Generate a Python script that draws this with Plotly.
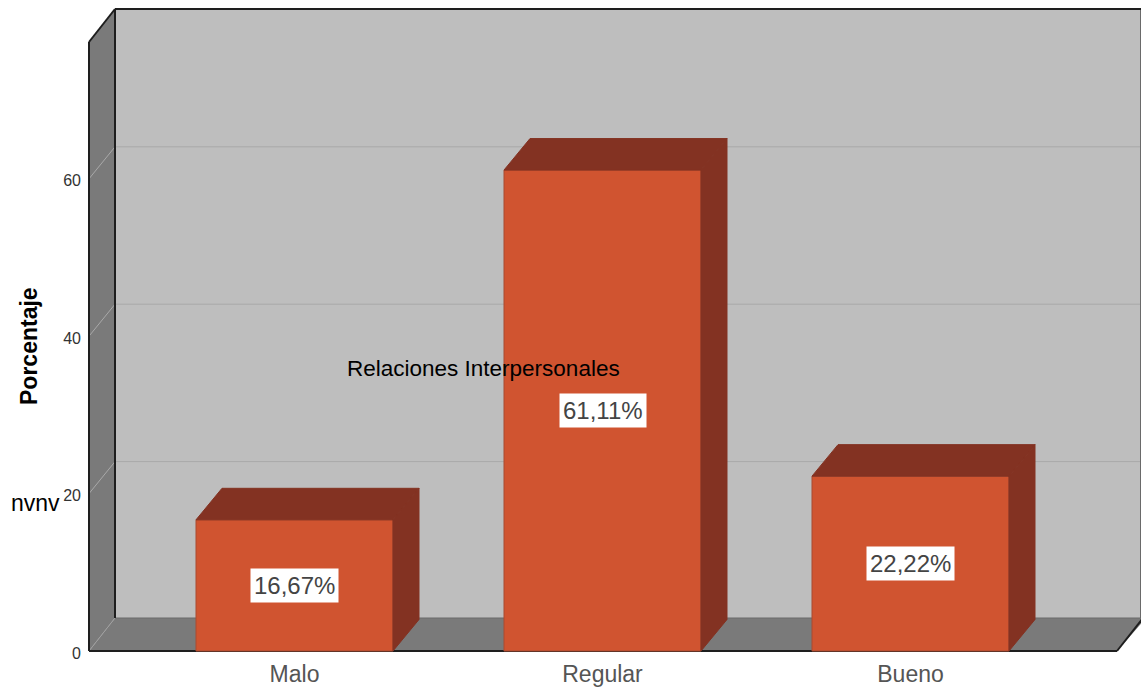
import plotly.graph_objects as go

categories = ["Malo", "Regular", "Bueno"]
values = [16.67, 61.11, 22.22]
value_labels = ["16,67%", "61,11%", "22,22%"]
y_ticks = [0, 20, 40, 60]
grid_values = [20, 40, 60]

W, H = 1141, 692
L, R, T, B = 85, 1141, 5, 655
PX_X = 308.0
PX_Y = 7.87
CX0 = 294.5
Y0 = 651.0


def px_x(p):
    return (p - CX0) / PX_X


def px_y(p):
    return (Y0 - p) / PX_Y


def paper_x(p):
    return (p - L) / (R - L)


def paper_y(p):
    return (B - p) / (B - T)


DX = 26 / PX_X
DY = 33 / PX_Y
BAR_DY = 31.5 / PX_Y
GRID_DY = 32 / PX_Y
BAR_W = 197 / PX_X
WALL_L = px_x(89)
FLOOR_R = px_x(1117)
TOP_FRONT = px_y(42)
RIGHT_END = px_x(1146)

FRONT = "#D05430"
DARK = "#833222"
EDGE = "#A84A30"
WALL = "#BEBEBE"
SIDE = "#7A7A7A"
GRID = "#A9A9A9"
INK = "#1E1E1E"

xs = list(range(len(categories)))
fig = go.Figure()
fig.add_trace(go.Bar(x=xs, y=values, width=BAR_W,
                     marker=dict(color=FRONT, line=dict(color=EDGE, width=1)),
                     hoverinfo="skip", showlegend=False))

for x, v in zip(xs, values):
    l, r = x - BAR_W / 2, x + BAR_W / 2
    fig.add_trace(go.Scatter(
        x=[l, r, r + DX, l + DX, l], y=[v, v, v + BAR_DY, v + BAR_DY, v],
        mode="lines", fill="toself", fillcolor=DARK,
        line=dict(color=DARK, width=1), hoverinfo="skip", showlegend=False))
    fig.add_trace(go.Scatter(
        x=[r, r + DX, r + DX, r, r], y=[0, BAR_DY, v + BAR_DY, v, 0],
        mode="lines", fill="toself", fillcolor=DARK,
        line=dict(color=DARK, width=1), hoverinfo="skip", showlegend=False))


def poly(pts, fill, line=None, width=0):
    path = "M " + " L ".join(f"{a} {b}" for a, b in pts) + " Z"
    return dict(type="path", path=path, xref="x", yref="y", layer="below",
                fillcolor=fill, line=dict(color=line or fill, width=width))


def seg(x0, y0, x1, y1, color, width):
    return dict(type="line", x0=x0, y0=y0, x1=x1, y1=y1, xref="x", yref="y",
                layer="below", line=dict(color=color, width=width))


back_l = WALL_L + DX
shapes = [
    poly([(back_l, DY), (back_l, TOP_FRONT + DY), (RIGHT_END, TOP_FRONT + DY), (RIGHT_END, DY)], WALL),
    poly([(WALL_L, 0), (WALL_L, TOP_FRONT), (back_l, TOP_FRONT + DY), (back_l, DY)], SIDE),
    poly([(WALL_L, 0), (back_l, DY), (RIGHT_END, DY), (FLOOR_R, 0)], SIDE),
]
for g in grid_values:
    shapes.append(seg(back_l, g + GRID_DY, RIGHT_END, g + GRID_DY, GRID, 1))
    shapes.append(seg(WALL_L, g, back_l, g + GRID_DY, GRID, 1))
shapes += [
    seg(WALL_L, 0, back_l, DY, "#A0A0A0", 1),
    seg(back_l, DY, RIGHT_END, DY, "#6A6A6A", 1),
    seg(px_x(1140.5), DY, px_x(1140.5), TOP_FRONT + DY, "#6A6A6A", 1),
    seg(WALL_L, 0, WALL_L, TOP_FRONT, INK, 2),
    seg(back_l, DY, back_l, TOP_FRONT + DY, INK, 2),
    seg(WALL_L, TOP_FRONT, back_l, TOP_FRONT + DY, INK, 2),
    seg(back_l, TOP_FRONT + DY, RIGHT_END, TOP_FRONT + DY, INK, 2),
    seg(WALL_L, 0, FLOOR_R, 0, INK, 2),
    seg(FLOOR_R, 0, FLOOR_R + DX, DY, INK, 2),
]

annotations = [
    dict(x=x, y=v / 2, xref="x", yref="y", text=t, showarrow=False,
         bgcolor="white", borderpad=3,
         font=dict(family="Liberation Sans", size=24, color="#444444"))
    for x, v, t in zip(xs, values, value_labels)
]
annotations += [
    dict(x=paper_x(345), y=paper_y(368), xref="paper", yref="paper", xanchor="left",
         yanchor="middle", text="Relaciones Interpersonales", showarrow=False,
         font=dict(family="Liberation Sans", size=22.5, color="black")),
    dict(x=paper_x(9), y=paper_y(503), xref="paper", yref="paper", xanchor="left",
         yanchor="middle", text="nvnv", showarrow=False,
         font=dict(family="Liberation Sans", size=23, color="black")),
    dict(x=paper_x(29), y=paper_y(346), xref="paper", yref="paper", xanchor="center",
         yanchor="middle", text="<b>Porcentaje</b>", showarrow=False, textangle=-90,
         font=dict(family="Liberation Sans", size=23, color="black")),
]

fig.update_layout(
    width=W, height=H, autosize=False,
    margin=dict(l=L, r=W - R, t=T, b=H - B, pad=0),
    paper_bgcolor="white", plot_bgcolor="white",
    showlegend=False, shapes=shapes, annotations=annotations,
    xaxis=dict(range=[px_x(L), px_x(R)], tickmode="array", tickvals=xs,
               ticktext=categories, showgrid=False, zeroline=False, showline=False,
               ticks="", ticklabelstandoff=3,
               tickfont=dict(family="Liberation Sans", size=23, color="#555555")),
    yaxis=dict(range=[px_y(B), px_y(T)], tickmode="array", tickvals=y_ticks,
               showgrid=False, zeroline=False, showline=False, ticks="",
               ticklabelstandoff=3, ticklabelshift=2,
               tickfont=dict(family="Liberation Sans", size=16, color="#333333")),
)
fig.write_html("out.html", config={"displayModeBar": False},
               post_script="document.body.style.margin='0';document.body.style.overflow='hidden';")
